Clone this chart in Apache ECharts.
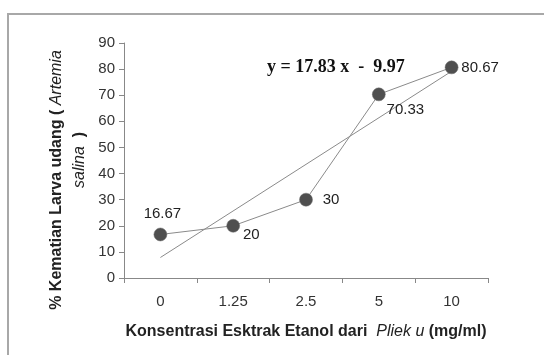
<!DOCTYPE html>
<html><head><meta charset="utf-8">
<script src="https://cdn.jsdelivr.net/npm/echarts@6/dist/echarts.min.js"></script>
<style>html,body{margin:0;padding:0;background:#fff}#c{width:544px;height:355px}</style>
</head><body><div id="c"></div>
<script>
const categories = ['0', '1.25', '2.5', '5', '10'];
const mortality = [16.67, 20, 30, 70.33, 80.67];
const trendline = [7.86, null, null, null, 79.18];
const yTicks = [0, 10, 20, 30, 40, 50, 60, 70, 80, 90];
const equationText = 'y = 17.83 x  -  9.97';

const labelCfg = [
  {position: 'top', distance: 6, offset: [2, 0]},
  {position: 'right', distance: 3, offset: [0, 9]},
  {position: 'right', distance: 10, offset: [0, 0]},
  {position: 'right', distance: 1, offset: [0, 15]},
  {position: 'right', distance: 3, offset: [0, 0]}
];

const chart = echarts.init(document.getElementById('c'));
const font = '"Liberation Sans", Arial, sans-serif';
chart.setOption({
  animation: false,
  grid: {left: 124, right: 56, top: 43, bottom: 77},
  xAxis: {
    type: 'category', data: categories, boundaryGap: true,
    axisLine: {lineStyle: {color: '#888', width: 1}},
    axisTick: {show: true, length: 5, lineStyle: {color: '#888'}},
    axisLabel: {color: '#333', fontSize: 15, fontFamily: font, margin: 16},
    name: '{b|Konsentrasi Esktrak Etanol dari  }{i|Pliek u}{b| (mg/ml)}',
    nameLocation: 'middle', nameGap: 46,
    nameTextStyle: {rich: {
      b: {fontWeight: 'bold', fontSize: 16, fontFamily: font, color: '#222'},
      i: {fontStyle: 'italic', fontSize: 16, fontFamily: font, color: '#222'}
    }}
  },
  yAxis: {
    type: 'value', min: yTicks[0], max: yTicks[yTicks.length - 1], interval: 10,
    axisLine: {show: true, lineStyle: {color: '#888', width: 1}},
    axisTick: {show: true, length: 5, lineStyle: {color: '#888'}},
    splitLine: {show: false},
    axisLabel: {color: '#333', fontSize: 15, fontFamily: font, margin: 9}
  },
  graphic: [
    {type: 'rect', shape: {x: 8, y: 14, width: 600, height: 400}, style: {fill: 'none', stroke: '#a8a8a8', lineWidth: 2}, silent: true},
    {type: 'text', x: 57, y: 180, rotation: Math.PI / 2, style: {
      text: '{b|% Kematian Larva udang ( }{i|Artemia}', align: 'center', verticalAlign: 'middle',
      rich: {b: {fontWeight: 'bold', fontSize: 16, fontFamily: font, fill: '#222'}, i: {fontStyle: 'italic', fontSize: 16, fontFamily: font, fill: '#222'}}
    }},
    {type: 'text', x: 80, y: 160, rotation: Math.PI / 2, style: {
      text: '{i|salina}{b|  )}', align: 'center', verticalAlign: 'middle',
      rich: {b: {fontWeight: 'bold', fontSize: 16, fontFamily: font, fill: '#222'}, i: {fontStyle: 'italic', fontSize: 16, fontFamily: font, fill: '#222'}}
    }},
    {type: 'text', x: 267, y: 67, style: {
      text: equationText, align: 'left', verticalAlign: 'middle',
      font: 'bold 18px "Liberation Serif", "Times New Roman", serif', fill: '#111'
    }}
  ],
  series: [
    {
      type: 'line', data: trendline, connectNulls: true, symbol: 'none',
      lineStyle: {color: '#8a8a8a', width: 1}, z: 1
    },
    {
      type: 'line', symbol: 'circle', symbolSize: 13,
      itemStyle: {color: '#4f4f4f', borderColor: '#6a6a6a', borderWidth: 0.5},
      lineStyle: {color: '#8a8a8a', width: 1}, z: 2,
      data: mortality.map((v, i) => ({
        value: v,
        label: Object.assign({show: true, color: '#222', fontSize: 15, fontFamily: font}, labelCfg[i])
      }))
    }
  ]
});
</script></body></html>
